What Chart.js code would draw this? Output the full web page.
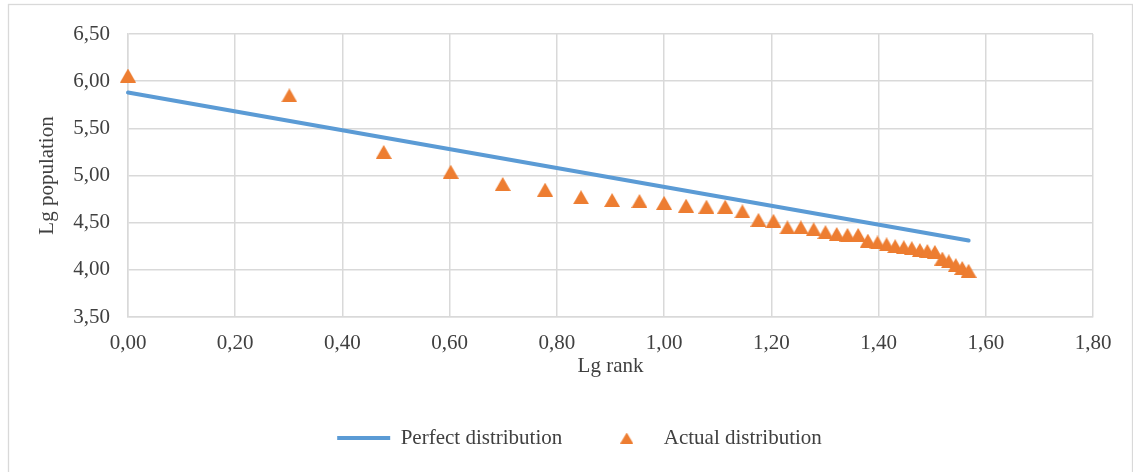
<!DOCTYPE html>
<html>
<head>
<meta charset="utf-8">
<script src="https://cdn.jsdelivr.net/npm/chart.js@4/dist/chart.umd.min.js"></script>
<style>
  html, body { margin: 0; padding: 0; background: #fff; }
  #wrap { width: 1133px; height: 472px; position: relative; }
</style>
</head>
<body>
<div id="wrap"><canvas id="chart"></canvas></div>
<script>
// lg rank of each city (rank 1..37) and lg population
const lgRank = [0.000, 0.301, 0.477, 0.602, 0.699, 0.778, 0.845, 0.903, 0.954, 1.000,
  1.041, 1.079, 1.114, 1.146, 1.176, 1.204, 1.230, 1.255, 1.279, 1.301,
  1.322, 1.342, 1.362, 1.380, 1.398, 1.415, 1.431, 1.447, 1.462, 1.477,
  1.491, 1.505, 1.519, 1.531, 1.544, 1.556, 1.568];
const lgPopulation = [6.06, 5.85, 5.25, 5.04, 4.91, 4.85, 4.77, 4.74, 4.73, 4.71,
  4.68, 4.67, 4.67, 4.62, 4.53, 4.52, 4.45, 4.45, 4.43, 4.40,
  4.38, 4.37, 4.37, 4.31, 4.29, 4.27, 4.25, 4.24, 4.23, 4.21,
  4.20, 4.19, 4.12, 4.09, 4.05, 4.02, 3.99];

// perfect distribution: straight line between its two ends
const perfectX = [0.000, 1.568];
const perfectY = [5.88, 4.31];

const seriesNames = ['Perfect distribution', 'Actual distribution'];
const xTitle = 'Lg rank';
const yTitle = 'Lg population';

const blue = '#5b9bd5';
const orange = '#ed7d31';
const textColor = '#404040';
const gridColor = '#d9d9d9';
const fontFamily = '"Liberation Serif", "Times New Roman", serif';

// triangle marker centred on its box like the spreadsheet one
function triangle(w, h) {
  const c = document.createElement('canvas');
  c.width = w; c.height = h;
  const g = c.getContext('2d');
  g.fillStyle = orange;
  g.beginPath();
  g.moveTo(w / 2, 0);
  g.lineTo(w, h);
  g.lineTo(0, h);
  g.closePath();
  g.fill();
  return c;
}
const marker = triangle(16, 14);
const legendMarker = triangle(13, 11);

const fmt = v => Number(v).toFixed(2).replace('.', ',');

const frame = {
  id: 'frame',
  beforeDraw(chart) {
    const ctx = chart.ctx;
    ctx.save();
    ctx.fillStyle = '#fff';
    ctx.fillRect(0, 0, chart.width, chart.height);
    ctx.strokeStyle = gridColor;
    ctx.lineWidth = 1.3;
    ctx.strokeRect(8.5, 4.5, 1124, 480);
    ctx.restore();
  },
  afterLayout(chart) {
    // legend sits a bit right of the centre in the reference
    chart.legend.left += 29;
    chart.legend.right += 29;
  }
};

new Chart(document.getElementById('chart'), {
  type: 'scatter',
  data: {
    datasets: [{
      label: seriesNames[0],
      data: perfectX.map((x, i) => ({x: x, y: perfectY[i]})),
      showLine: true,
      borderColor: blue,
      backgroundColor: blue,
      borderWidth: 4,
      borderCapStyle: 'round',
      pointRadius: 0,
      pointStyle: 'line',
      clip: false,
      order: 2
    }, {
      label: seriesNames[1],
      data: lgRank.map((x, i) => ({x: x, y: lgPopulation[i]})),
      showLine: false,
      pointStyle: marker,
      pointRadius: 8,
      backgroundColor: orange,
      borderColor: orange,
      clip: false,
      order: 1
    }]
  },
  options: {
    responsive: true,
    maintainAspectRatio: false,
    animation: false,
    devicePixelRatio: 1,
    layout: { padding: { left: 8, right: 40, top: 34, bottom: 13.5 } },
    plugins: {
      tooltip: { enabled: false },
      legend: {
        position: 'bottom',
        labels: {
          usePointStyle: true,
          pointStyleWidth: 53,
          padding: 38,
          color: textColor,
          font: { family: fontFamily, size: 21 },
          sort: (a, b) => a.datasetIndex - b.datasetIndex,
          generateLabels(chart) {
            const items = Chart.defaults.plugins.legend.labels.generateLabels(chart);
            items.forEach(it => {
              if (it.datasetIndex === 1) it.pointStyle = legendMarker;
            });
            return items;
          }
        }
      }
    },
    scales: {
      x: {
        type: 'linear',
        min: 0,
        max: 1.8,
        afterFit(s) { s.height = 72.5; },
        ticks: {
          stepSize: 0.2,
          padding: 14,
          color: textColor,
          font: { family: fontFamily, size: 21 },
          callback: v => fmt(v)
        },
        grid: { color: gridColor, lineWidth: 1.5, drawTicks: false },
        border: { color: gridColor, width: 1.5 },
        title: {
          display: true,
          text: xTitle,
          color: textColor,
          font: { family: fontFamily, size: 21 },
          padding: { top: 0, bottom: 10 }
        }
      },
      y: {
        min: 3.5,
        max: 6.5,
        afterFit(s) { s.width = 120; },
        ticks: {
          stepSize: 0.5,
          padding: 18,
          color: textColor,
          font: { family: fontFamily, size: 21 },
          callback: v => fmt(v)
        },
        grid: { color: gridColor, lineWidth: 1.5, drawTicks: false },
        border: { color: gridColor, width: 1.5 },
        title: {
          display: true,
          text: yTitle,
          color: textColor,
          font: { family: fontFamily, size: 21 },
          padding: { top: 27, bottom: 0 }
        }
      }
    }
  },
  plugins: [frame]
});
</script>
</body>
</html>
